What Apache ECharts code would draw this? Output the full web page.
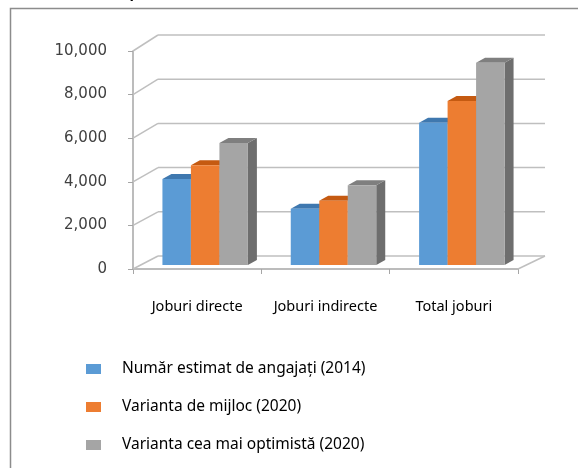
<!DOCTYPE html>
<html>
<head>
<meta charset="utf-8">
<script src="https://cdn.jsdelivr.net/npm/echarts@6/dist/echarts.min.js"></script>
<style>
  html, body { margin: 0; padding: 0; background: #fff; }
  #chart { width: 578px; height: 468px; }
</style>
</head>
<body>
<div id="chart"></div>
<script>
const categories = ['Joburi directe', 'Joburi indirecte', 'Total joburi']
const seriesNames = [
  'Număr estimat de angajați (2014)',
  'Varianta de mijloc (2020)',
  'Varianta cea mai optimistă (2020)'
]
const estimat2014 = [3950, 2580, 6530]
const mijloc2020 = [4570, 2950, 7520]
const optimist2020 = [5600, 3660, 9280]
const yTicks = [0, 2000, 4000, 6000, 8000, 10000]

const palette = [
  { front: '#5B9BD5', top: '#3F78AF', side: '#41719C' },
  { front: '#ED7D31', top: '#C55A11', side: '#AE5A21' },
  { front: '#A5A5A5', top: '#7F7F7F', side: '#6E6E6E' }
]

// depth of the fake 3d box (back wall offset) and bar offset inside it
const DEPTH_X = 25
const BAR_DX = 8
const BAR_DY = -4
const BAR_DEPTH_X = 9
const BAR_DEPTH_Y = -5

function wallDy(frac) {
  return -13 - 3 * frac
}

const chart = echarts.init(document.getElementById('chart'))

function renderWalls(params, api) {
  const cs = params.coordSys
  const v = api.value(0)
  const y = api.coord([0, v])[1]
  const dy = wallDy(v / 10000)
  const lineStyle = { stroke: '#BFBFBF', lineWidth: 1.5 }
  const children = [
    { type: 'line', shape: { x1: cs.x, y1: y, x2: cs.x + DEPTH_X, y2: y + dy }, style: lineStyle },
    { type: 'line', shape: { x1: cs.x + DEPTH_X, y1: y + dy, x2: cs.x + cs.width + DEPTH_X + 2, y2: y + dy }, style: lineStyle }
  ]
  if (v === 0) {
    children.push({
      type: 'line',
      shape: { x1: cs.x + cs.width, y1: y, x2: cs.x + cs.width + DEPTH_X + 2, y2: y + dy },
      style: lineStyle
    })
  }
  return { type: 'group', children }
}

function makeBarRenderer(k) {
  return function (params, api) {
    const cat = api.value(0)
    const val = api.value(1)
    const base = api.coord([cat, 0])
    const top = api.coord([cat, val])
    const bandW = api.size([1, 0])[0]
    const barW = bandW * 0.222
    const x0 = base[0] - 1.5 * barW + k * barW + BAR_DX
    const x1 = x0 + barW
    const yb = base[1] + BAR_DY
    const yt = top[1] + BAR_DY
    const c = palette[k]
    return {
      type: 'group',
      children: [
        {
          type: 'polygon',
          shape: { points: [[x1, yb], [x1 + BAR_DEPTH_X, yb + BAR_DEPTH_Y], [x1 + BAR_DEPTH_X, yt + BAR_DEPTH_Y], [x1, yt]] },
          style: { fill: c.side }
        },
        {
          type: 'polygon',
          shape: { points: [[x0, yt], [x1, yt], [x1 + BAR_DEPTH_X, yt + BAR_DEPTH_Y], [x0 + BAR_DEPTH_X, yt + BAR_DEPTH_Y]] },
          style: { fill: c.top }
        },
        {
          type: 'rect',
          shape: { x: x0, y: yt, width: barW, height: yb - yt },
          style: { fill: c.front }
        }
      ]
    }
  }
}

const valueSets = [estimat2014, mijloc2020, optimist2020]
const barSeries = valueSets.map((vals, k) => ({
  name: seriesNames[k],
  type: 'custom',
  z: 3 + k,
  renderItem: makeBarRenderer(k),
  itemStyle: { color: palette[k].front },
  encode: { x: 0, y: 1 },
  data: vals.map((v, i) => [i, v])
}))

chart.setOption({
  animation: false,
  backgroundColor: '#fff',
  title: {
    text: 'Varianta optimistă',
    left: 48,
    top: -19,
    textStyle: { fontFamily: 'Liberation Sans', fontSize: 16, fontWeight: 'bold', color: '#000' }
  },
  graphic: [
    {
      type: 'polyline',
      shape: { points: [[10.5, 480], [10.5, 8.5], [590, 8.5]] },
      style: { stroke: '#8C8C8C', lineWidth: 1.5, fill: null }
    }
  ],
  legend: {
    orient: 'vertical',
    left: 81,
    top: 356,
    itemWidth: 15,
    itemHeight: 10,
    itemGap: 22,
    icon: 'rect',
    textStyle: { fontFamily: 'Noto Sans', fontSize: 15.5, color: '#000', padding: [0, 0, 0, 16] },
    data: seriesNames
  },
  grid: { left: 133, top: 51, width: 385, height: 218 },
  xAxis: {
    type: 'category',
    data: categories,
    axisLine: { lineStyle: { color: '#A6A6A6', width: 1.5 } },
    axisTick: { show: true, length: 5, lineStyle: { color: '#A6A6A6' } },
    axisLabel: { interval: 0, margin: 30, fontFamily: 'Noto Sans', fontSize: 14.5, color: '#000' }
  },
  yAxis: {
    type: 'value',
    min: 0,
    max: 10000,
    interval: 2000,
    axisLine: { show: true, lineStyle: { color: '#A6A6A6', width: 1.5 } },
    axisTick: { show: true, length: 5, lineStyle: { color: '#A6A6A6' } },
    splitLine: { show: false },
    axisLabel: {
      margin: 26,
      fontFamily: 'DejaVu Sans',
      fontSize: 15,
      color: '#404040',
      formatter: v => v.toLocaleString('en-US')
    }
  },
  series: [
    {
      type: 'custom',
      z: 1,
      silent: true,
      renderItem: renderWalls,
      encode: { y: 0 },
      data: yTicks.map(v => [v])
    },
    ...barSeries
  ]
})
</script>
</body>
</html>
